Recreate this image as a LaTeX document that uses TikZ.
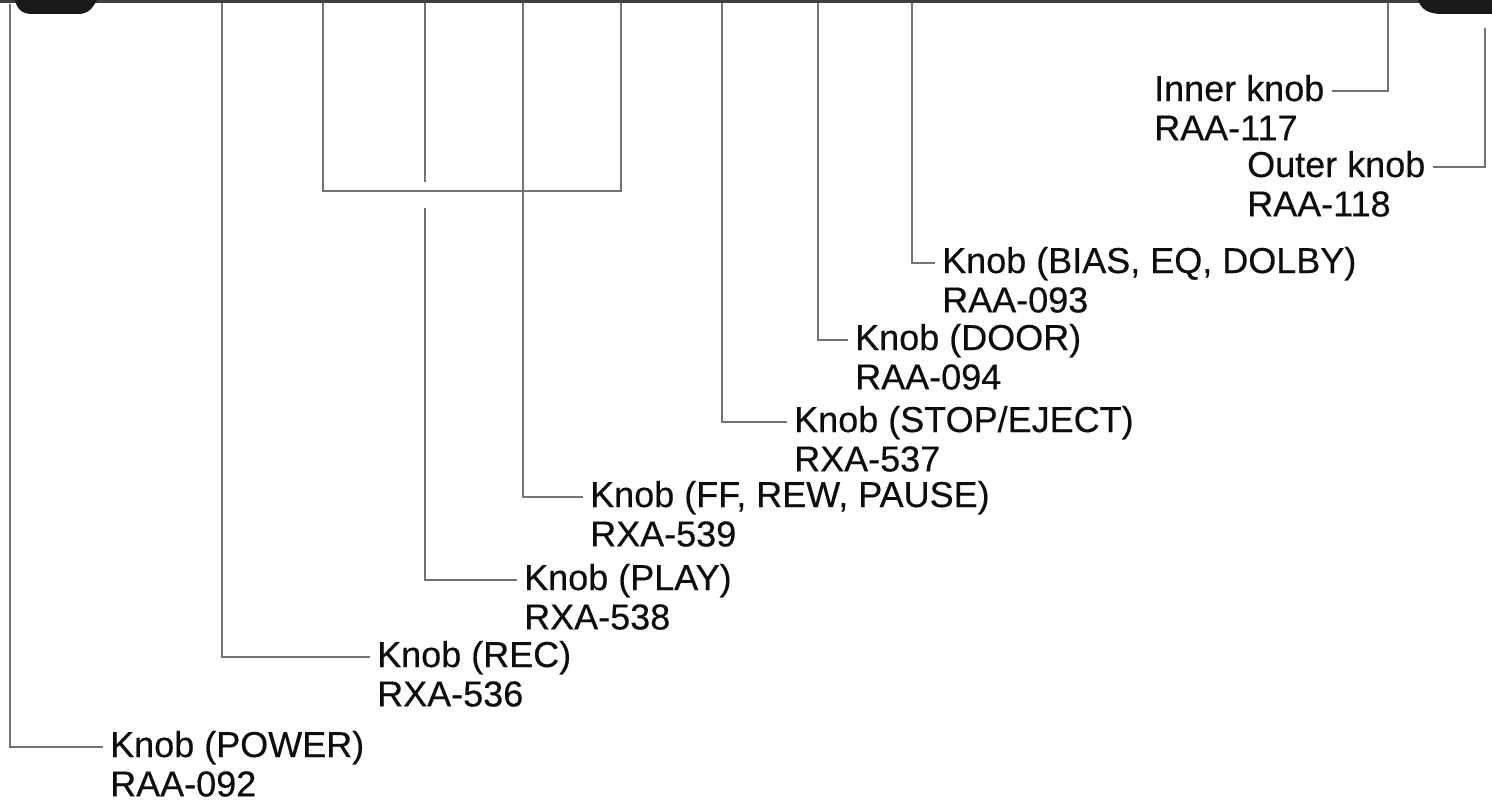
\documentclass[tikz,border=0pt]{standalone}
\usepackage{fontspec}
\setmainfont{Liberation Sans}
\newfontfamily\knobfont{Liberation Sans}[FakeBold=0.4]
\usetikzlibrary{positioning}
\tikzset{
  knob/.style={
    font=\fontsize{36}{39}\knobfont,
    text=black!95,
    inner xsep=7pt,
    inner ysep=0pt,
    text height=27pt,
    text depth=7pt
  },
  lead/.style={draw=black!55, line width=1.3pt},
  edge/.style={draw=black!75, line width=2.5pt},
  foot/.style={fill=black!90, draw=none}
}

\begin{document}
\begin{tikzpicture}[x=1pt, y=-1pt, node distance=5pt]
  \useasboundingbox (0,0) rectangle (1492,808);

  % cabinet edge and feet
  \draw[edge] (0,1.5) -- (1492,1.5);
  \fill[foot] (15,0) -- (97,0) .. controls (92,9) and (88,14) .. (78,14) -- (32,14) .. controls (22,14) and (17,9) .. (15,0) -- cycle;
  \fill[foot] (1418,0) -- (1492,0) -- (1492,14) -- (1442,14) .. controls (1428,14) and (1421,9) .. (1418,0) -- cycle;

  % labels
  \node[knob, anchor=base west] (inner) at (1147,101) {Inner knob};
  \node[knob, below=of inner.south west, anchor=north west] (inner-no) {RAA-117};
  \node[knob, anchor=base west] (outer) at (1240,177) {Outer knob};
  \node[knob, below=of outer.south west, anchor=north west] (outer-no) {RAA-118};
  \node[knob, anchor=base west] (bias) at (935,273) {Knob (BIAS, EQ, DOLBY)};
  \node[knob, below=of bias.south west, anchor=north west] (bias-no) {RAA-093};
  \node[knob, anchor=base west] (door) at (848,350) {Knob (DOOR)};
  \node[knob, below=of door.south west, anchor=north west] (door-no) {RAA-094};
  \node[knob, anchor=base west] (stop) at (787,432) {Knob (STOP/EJECT)};
  \node[knob, below=of stop.south west, anchor=north west] (stop-no) {RXA-537};
  \node[knob, anchor=base west] (ff) at (583,507) {Knob (FF, REW, PAUSE)};
  \node[knob, below=of ff.south west, anchor=north west] (ff-no) {RXA-539};
  \node[knob, anchor=base west] (play) at (517,590) {Knob (PLAY)};
  \node[knob, below=of play.south west, anchor=north west] (play-no) {RXA-538};
  \node[knob, anchor=base west] (rec) at (370,667) {Knob (REC)};
  \node[knob, below=of rec.south west, anchor=north west] (rec-no) {RXA-536};
  \node[knob, anchor=base west] (power) at (103,757) {Knob (POWER)};
  \node[knob, below=of power.south west, anchor=north west] (power-no) {RAA-092};

  % top ends of the leaders
  \coordinate (t-power) at (10,4);
  \coordinate (t-rec) at (222,3);
  \coordinate (t-play) at (425,3);
  \coordinate (t-ff) at (523,3);
  \coordinate (t-stop) at (722,3);
  \coordinate (t-door) at (818,3);
  \coordinate (t-bias) at (912,3);
  \coordinate (t-inner) at (1388,3);
  \coordinate (t-outer) at (1485,28);
  \coordinate (br-l) at (323,3);
  \coordinate (br-m) at (470,191);
  \coordinate (br-r) at (621,3);
  \coordinate (play-a) at (425,182);
  \coordinate (play-b) at (425,208);

  % leaders
  \draw[lead] (t-power) |- (power.west);
  \draw[lead] (t-rec) |- (rec.west);
  \draw[lead] (br-l) |- (br-m) -| (br-r);
  \draw[lead] (t-play) -- (play-a);
  \draw[lead] (play-b) |- (play.west);
  \draw[lead] (t-ff) |- (ff.west);
  \draw[lead] (t-stop) |- (stop.west);
  \draw[lead] (t-door) |- (door.west);
  \draw[lead] (t-bias) |- (bias.west);
  \draw[lead] (inner.east) -| (t-inner);
  \draw[lead] (outer.east) -| (t-outer);
\end{tikzpicture}
\end{document}
